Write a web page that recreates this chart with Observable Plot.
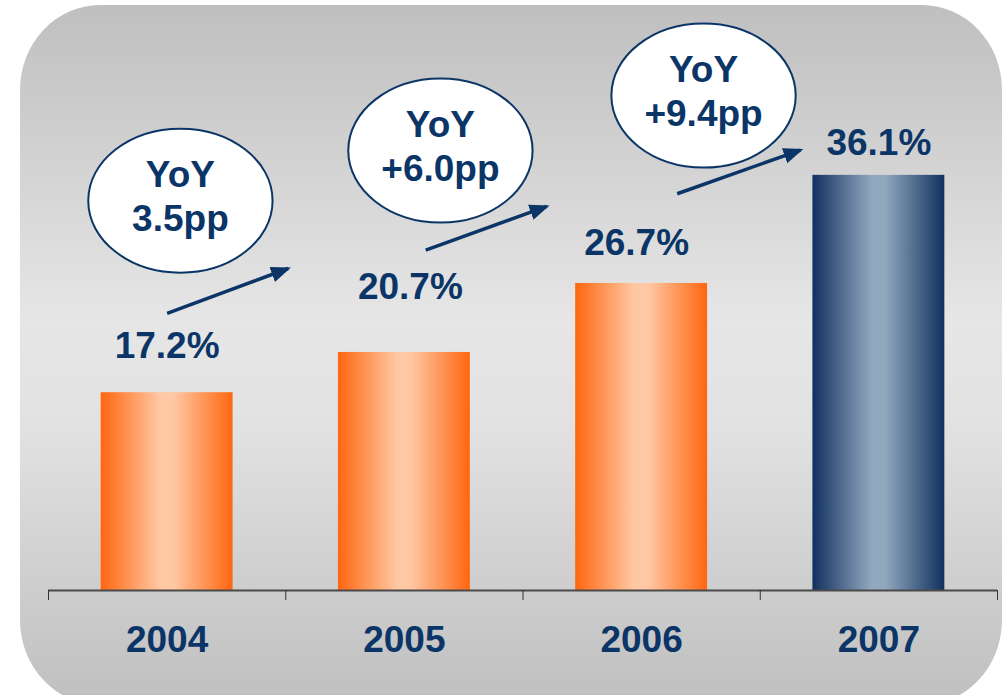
<!DOCTYPE html>
<html>
<head>
<meta charset="utf-8">
<script src="https://cdn.jsdelivr.net/npm/d3@7"></script>
<script src="https://cdn.jsdelivr.net/npm/@observablehq/plot@0.6"></script>
<style>
  html, body { margin: 0; padding: 0; background: #ffffff; }
  #wrap { position: relative; width: 1008px; height: 695px; overflow: hidden; }
  #bg {
    position: absolute; left: 20px; top: 5px; width: 982px; height: 700px;
    border-radius: 80px / 85px;
    background: linear-gradient(to bottom, #bfbfbf 0%, #e6e6e6 45%, #e2e2e2 60%, #bfbfbf 100%);
  }
  #chart { position: absolute; left: 0; top: 0; }
</style>
</head>
<body>
<div id="wrap"><div id="bg"></div><div id="chart"></div></div>
<script>
// ---- data ----
const years = [2004, 2005, 2006, 2007];
const shares = [17.2, 20.7, 26.7, 36.1];
const yoyChanges = ["3.5pp", "+6.0pp", "+9.4pp"];
const highlightYear = 2007;

// ---- annotation layout (in data units) ----
const arrowX1 = [2004.0, 2005.09, 2006.15];
const arrowX2 = [2004.51, 2005.6, 2006.67];
const arrowY1 = [24.1, 29.6, 34.5];
const arrowY2 = [28.0, 33.4, 38.3];
const bubbleX = [2004.056, 2005.152, 2006.261];
const bubbleY = [33.9, 38.26, 43.04];
const labelDx = [0, 6, -5, 0];
const labelDy = [-47, -65, -40, -32];

const navy = "#0b3567";
const font = "'Liberation Sans', Arial, Helvetica, sans-serif";
const halfBar = 0.278;
const fs = 37;

const rows = years.map((y, i) => ({year: y, value: shares[i]}));
const boundaries = d3.range(years.length + 1).map(i => years[0] - 0.5 + i);
const arrows = yoyChanges.map((c, i) => ({x1: arrowX1[i], x2: arrowX2[i], y1: arrowY1[i], y2: arrowY2[i]}));
const bubbles = yoyChanges.map((c, i) => ({x: bubbleX[i], y: bubbleY[i], text: "YoY\n" + c}));

const ellipseSymbol = {
  draw(ctx, size) {
    const r = Math.sqrt(size / Math.PI);
    const rx = r * 1.28, ry = r, k = 0.5523;
    ctx.moveTo(rx, 0);
    ctx.bezierCurveTo(rx, k * ry, k * rx, ry, 0, ry);
    ctx.bezierCurveTo(-k * rx, ry, -rx, k * ry, -rx, 0);
    ctx.bezierCurveTo(-rx, -k * ry, -k * rx, -ry, 0, -ry);
    ctx.bezierCurveTo(k * rx, -ry, rx, -k * ry, rx, 0);
    ctx.closePath();
  }
};

const plot = Plot.plot({
  width: 1008,
  height: 695,
  marginLeft: 48,
  marginRight: 11,
  marginTop: 0,
  marginBottom: 105,
  style: {background: "transparent", fontFamily: font, overflow: "visible"},
  x: {type: "linear", domain: [2003.5, 2007.5], axis: null},
  y: {domain: [0, 590 / 11.5], axis: null},
  marks: [
    Plot.rectY(rows.filter(d => d.year !== highlightYear), {
      x1: d => d.year - halfBar, x2: d => d.year + halfBar, y: "value", fill: "url(#gradOrange)"
    }),
    Plot.rectY(rows.filter(d => d.year === highlightYear), {
      x1: d => d.year - halfBar, x2: d => d.year + halfBar, y: "value", fill: "url(#gradNavy)"
    }),
    Plot.ruleY([0], {stroke: "#4a4a4a", strokeWidth: 2}),
    Plot.ruleX(boundaries, {y1: 0, y2: -10 / 11.5, stroke: "#333333", strokeWidth: 1}),
    Plot.text(years, {
      x: d => d, y: 0, dy: 50, text: d => String(d),
      fontSize: fs, fontWeight: "bold", fill: navy, fontFamily: font
    }),
    ...rows.map((d, i) => Plot.text([d], {
      x: "year", y: "value", dx: labelDx[i], dy: labelDy[i],
      text: r => r.value.toFixed(1) + "%",
      fontSize: fs, fontWeight: "bold", fill: navy, fontFamily: font
    })),
    Plot.link(arrows, {x1: "x1", y1: "y1", x2: "x2", y2: "y2", stroke: navy, strokeWidth: 3.5}),
    Plot.dot(bubbles, {x: "x", y: "y", r: 72, symbol: ellipseSymbol, fill: "white", stroke: navy, strokeWidth: 2}),
    Plot.text(bubbles, {
      x: "x", y: "y", dy: -6, text: "text", lineHeight: 1.2,
      fontSize: fs, fontWeight: "bold", fill: navy, fontFamily: font
    })
  ]
});

const svg = d3.select(plot);
const defs = svg.insert("defs", ":first-child");
function hGrad(id, edge, mid) {
  const g = defs.append("linearGradient").attr("id", id).attr("x1", "0").attr("x2", "1").attr("y1", "0").attr("y2", "0");
  [[0, edge], [0.45, mid], [0.55, mid], [1, edge]].forEach(([o, c]) =>
    g.append("stop").attr("offset", o).attr("stop-color", c));
}
hGrad("gradOrange", "#ff6610", "#ffc8a4");
hGrad("gradNavy", "#10305e", "#92a8bf");
const m = defs.append("marker").attr("id", "ah").attr("viewBox", "0 0 20 16")
  .attr("refX", 17).attr("refY", 8).attr("markerWidth", 20).attr("markerHeight", 16)
  .attr("markerUnits", "userSpaceOnUse").attr("orient", "auto");
m.append("path").attr("d", "M0,0 L20,8 L0,16 Z").attr("fill", navy);
svg.selectAll('g[aria-label="link"] path, g[aria-label="link"] line').attr("marker-end", "url(#ah)");

document.getElementById("chart").appendChild(plot);
</script>
</body>
</html>
